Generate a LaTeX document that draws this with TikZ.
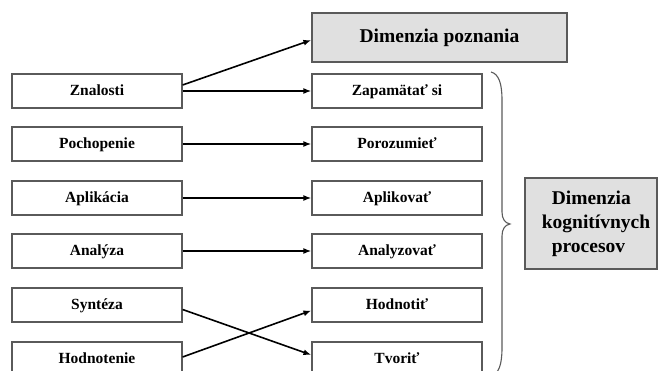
\documentclass[tikz,border=0pt]{standalone}
\usepackage{fontspec}
\setmainfont{Liberation Serif}
\usetikzlibrary{arrows.meta}
\definecolor{boxgray}{HTML}{5A5A5A}
\definecolor{fillgray}{HTML}{E0E0E0}
\begin{document}
\begin{tikzpicture}[x=1pt,y=-1pt,
  box/.style={draw=boxgray, line width=1.2pt, fill=white, minimum width=170pt, minimum height=34pt, inner sep=0pt, text height=11pt, text depth=1pt, font=\fontsize{15.5}{18}\selectfont\bfseries},
  gbox/.style={draw=boxgray, line width=1.2pt, fill=fillgray, inner sep=0pt, font=\fontsize{19.5}{24}\selectfont\bfseries},
  arr/.style={-{Latex[length=8pt,width=6pt]}, line width=1.6pt, black},
  bracestyle/.style={draw=boxgray, line width=1.1pt}]
\useasboundingbox (0,0) rectangle (659,371);
\clip (0,0) rectangle (659,371);
% left column
\node[box] (zna) at (97,91) {Znalosti};
\node[box] (poc) at (97,144) {Pochopenie};
\node[box] (apl) at (97,198) {Aplikácia};
\node[box] (ana) at (97,251) {Analýza};
\node[box] (syn) at (97,305) {Syntéza};
\node[box] (hod) at (97,359) {Hodnotenie};
% right column
\node[box] (zap) at (397,91) {Zapamätať si};
\node[box] (por) at (397,144) {Porozumieť};
\node[box] (apk) at (397,198) {Aplikovať};
\node[box] (anz) at (397,251) {Analyzovať};
\node[box] (hdt) at (397,305) {Hodnotiť};
\node[box] (tvo) at (397,359) {Tvoriť};
% gray boxes
\node[gbox, minimum width=255pt, minimum height=49pt] (dpz) at (439.5,37.5) {Dimenzia poznania};
\node[gbox, minimum width=132pt, minimum height=91pt, align=left] (dkp) at (591,223.5)
  {\hspace*{20pt}Dimenzia\\\hspace*{10pt}kognitívnych\\\hspace*{20pt}procesov};
% arrows
\draw[arr] ([yshift=6pt]zna.east) -- ([yshift=-2.5pt]dpz.west);
\draw[arr] (zna.east) -- (zap.west);
\draw[arr] (poc.east) -- (por.west);
\draw[arr] (apl.east) -- (apk.west);
\draw[arr] (ana.east) -- (anz.west);
\draw[arr] ([yshift=-4.5pt]syn.east) -- ([yshift=4pt]tvo.west);
\draw[arr] ([yshift=2pt]hod.east) -- ([yshift=-5.5pt]hdt.west);
% brace
\coordinate (btop) at (491,72);
\coordinate (btip) at (510,224);
\coordinate (bbot) at (491,376);
\draw[bracestyle] (btop) .. controls (499,74) and (502,84) .. (502,100) -- (502,212)
  .. controls (502,219) and (505,223) .. (btip)
  .. controls (505,225) and (502,229) .. (502,236) -- (502,348)
  .. controls (502,364) and (499,374) .. (bbot);
\end{tikzpicture}
\end{document}
